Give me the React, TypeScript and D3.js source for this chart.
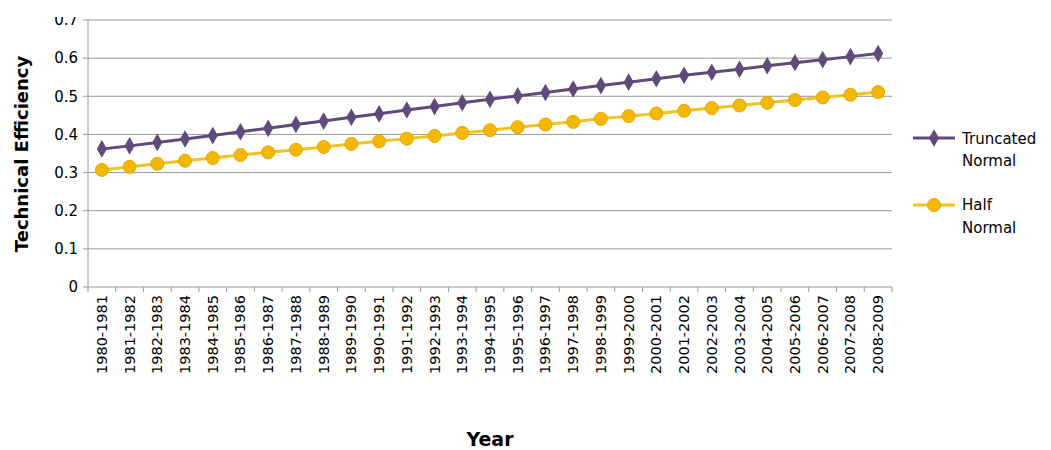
import React from 'react';
import * as d3 from 'd3';

const years = d3.range(1980, 2009).map(y => `${y}-${y + 1}`);
const truncated = [0.362, 0.370, 0.379, 0.388, 0.397, 0.407, 0.416, 0.426, 0.435, 0.445, 0.454, 0.464, 0.473, 0.483, 0.492, 0.501, 0.510, 0.519, 0.528, 0.537, 0.546, 0.555, 0.563, 0.571, 0.580, 0.588, 0.596, 0.604, 0.612];
const half = [0.307, 0.315, 0.323, 0.331, 0.338, 0.346, 0.353, 0.360, 0.367, 0.375, 0.382, 0.389, 0.396, 0.404, 0.411, 0.419, 0.426, 0.433, 0.441, 0.448, 0.455, 0.462, 0.469, 0.476, 0.483, 0.490, 0.497, 0.504, 0.511];
const yTicks = [0, 0.1, 0.2, 0.3, 0.4, 0.5, 0.6, 0.7];

const W = 1051, H = 450;
const left = 88, right = 892, top = 20, bottom = 287;
const font = 'Century Gothic, "DejaVu Sans", sans-serif';

export default function App() {
  const x = d3.scaleBand().domain(years).range([left, right]);
  const y = d3.scaleLinear().domain([0, 0.7]).range([bottom, top]);
  const cx = (i: number) => (x(years[i]) ?? 0) + x.bandwidth() / 2;
  const line = d3.line<number>().x((_, i) => cx(i)).y(d => y(d));
  const diamond = d3.symbol().type(d3.symbolDiamond).size(90)();

  return (
    <svg width={W} height={H} style={{ position: 'absolute', left: 0, top: 0, background: '#fff' }} fontFamily={font}>
      <defs>
        <clipPath id="c"><rect x={0} y={17} width={W} height={H} /></clipPath>
      </defs>
      <g clipPath="url(#c)">
        {yTicks.map(t => (
          <g key={t}>
            <line x1={left} x2={right} y1={y(t)} y2={y(t)} stroke="#9a9a9a" strokeWidth={1} />
            <line x1={left - 5} x2={left} y1={y(t)} y2={y(t)} stroke="#9a9a9a" />
            <text x={left - 10} y={y(t)} dy="0.35em" textAnchor="end" fontSize={15} fill="#000">{t === 0 ? '0' : t.toFixed(1)}</text>
          </g>
        ))}
      </g>
      <line x1={left} x2={left} y1={top} y2={bottom} stroke="#9a9a9a" />
      {years.map((yr, i) => (
        <g key={yr}>
          <line x1={x(yr)} x2={x(yr)} y1={bottom} y2={bottom + 5} stroke="#9a9a9a" />
          <text transform={`translate(${cx(i) + 5},${bottom + 8}) rotate(-90)`} textAnchor="end" fontSize={14.5} fill="#000">{yr}</text>
        </g>
      ))}
      <line x1={right} x2={right} y1={bottom} y2={bottom + 5} stroke="#9a9a9a" />
      <path d={line(truncated) ?? ''} fill="none" stroke="#604a7b" strokeWidth={3} />
      {truncated.map((v, i) => (
        <path key={i} d={diamond ?? ''} transform={`translate(${cx(i)},${y(v)})`} fill="#604a7b" />
      ))}
      <path d={line(half) ?? ''} fill="none" stroke="#f2c320" strokeWidth={3} />
      {half.map((v, i) => (
        <circle key={i} cx={cx(i)} cy={y(v)} r={6.5} fill="#f5b800" stroke="#e6a800" />
      ))}
      <text transform={`translate(28,154) rotate(-90)`} textAnchor="middle" fontSize={18} fontWeight="bold" fill="#000">Technical Efficiency</text>
      <text x={490} y={446} textAnchor="middle" fontSize={19} fontWeight="bold" fill="#000">Year</text>
      <line x1={913} x2={955} y1={138} y2={138} stroke="#604a7b" strokeWidth={3} />
      <path d={diamond ?? ''} transform="translate(934,138)" fill="#604a7b" />
      <text x={962} y={144} fontSize={15} fill="#000">Truncated</text>
      <text x={962} y={166} fontSize={15} fill="#000">Normal</text>
      <line x1={913} x2={955} y1={205} y2={205} stroke="#f2c320" strokeWidth={3} />
      <circle cx={934} cy={205} r={6.5} fill="#f5b800" stroke="#e6a800" />
      <text x={962} y={210} fontSize={15} fill="#000">Half</text>
      <text x={962} y={233} fontSize={15} fill="#000">Normal</text>
    </svg>
  );
}
